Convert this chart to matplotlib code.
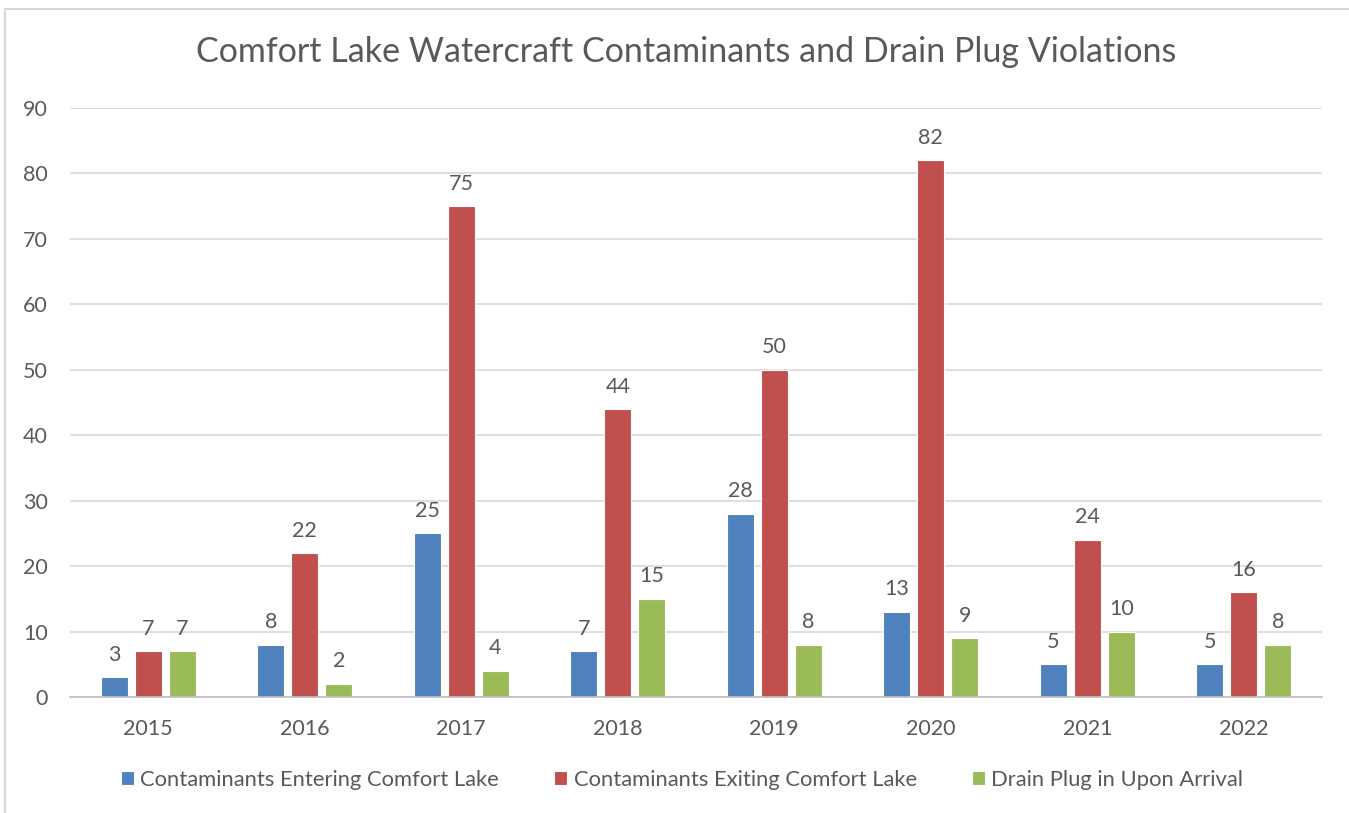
import numpy as np
import matplotlib
matplotlib.use("Agg")
import matplotlib.pyplot as plt
from matplotlib.patches import Rectangle

years = ["2015", "2016", "2017", "2018", "2019", "2020", "2021", "2022"]
entering = [3, 8, 25, 7, 28, 13, 5, 5]
exiting = [7, 22, 75, 44, 50, 82, 24, 16]
drain_plug = [7, 2, 4, 15, 8, 9, 10, 8]

series = [
    ("Contaminants Entering Comfort Lake", entering, "#4F81BD"),
    ("Contaminants Exiting Comfort Lake", exiting, "#C0504D"),
    ("Drain Plug in Upon Arrival", drain_plug, "#9BBB59"),
]

plt.rcParams["font.family"] = ["Lato", "DejaVu Sans"]
txt = "#595959"

fig = plt.figure(figsize=(13.49, 8.13), dpi=100)
ax = fig.add_axes([70 / 1349, 1 - 697 / 813, 1252 / 1349, 589 / 813])

# chart border like the Excel frame
fig.patches.append(Rectangle((5 / 1349, -0.05), 1.2, 1 - 9 / 813 + 0.05,
                             transform=fig.transFigure, fill=False,
                             edgecolor="#D9D9D9", linewidth=1.5))

x = np.arange(len(years))
w = 0.173
step = 0.217
for i, (name, vals, col) in enumerate(series):
    pos = x + (i - 1) * step
    bars = ax.bar(pos, vals, width=w, color=col, edgecolor="white",
                  linewidth=0.8, label=name, zorder=3)
    for b, v in zip(bars, vals):
        ax.annotate(str(v), (b.get_x() + b.get_width() / 2, v),
                    xytext=(0, 9), textcoords="offset points",
                    ha="center", va="bottom", fontsize=15.5, color=txt)

ax.set_xlim(-0.5, len(years) - 0.5)
ax.set_ylim(0, 90)
ax.set_yticks(range(0, 91, 10))
ax.set_xticks(x)
ax.set_xticklabels(years)
ax.tick_params(axis="both", length=0, labelsize=15.5, labelcolor=txt)
ax.tick_params(axis="y", pad=16)
ax.tick_params(axis="x", pad=16)
ax.yaxis.grid(True, color="#D9D9D9", linewidth=1.2, zorder=0)
for s in ["top", "right", "left"]:
    ax.spines[s].set_visible(False)
ax.spines["bottom"].set_color("#BFBFBF")
ax.spines["bottom"].set_linewidth(1.2)
ax.spines["bottom"].set_zorder(4)

fig.text(0.5 * (197 + 1176) / 1349, 1 - 52 / 813,
         "Comfort Lake Watercraft Contaminants and Drain Plug Violations",
         ha="center", va="center", fontsize=24.5, color=txt)

fig.legend(loc="center", bbox_to_anchor=(682 / 1349, 1 - 780 / 813), ncol=3,
           frameon=False, fontsize=15.8, labelcolor=txt, handlelength=0.6,
           handleheight=0.6, handletextpad=0.3, columnspacing=2.5)

fig.savefig("out.png", dpi=100, facecolor="white")
